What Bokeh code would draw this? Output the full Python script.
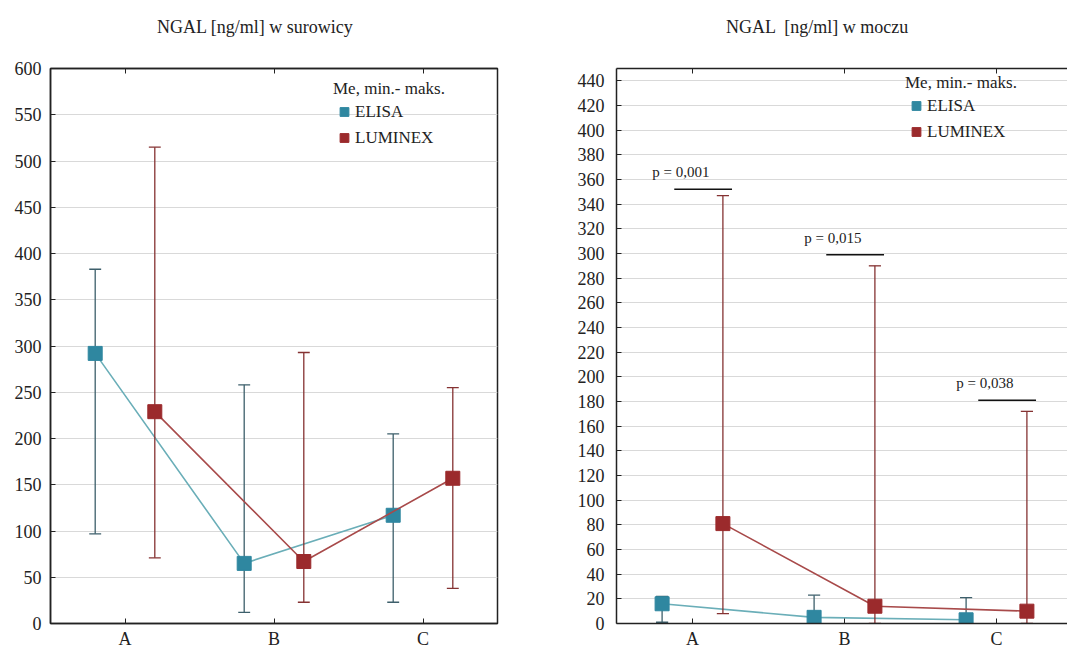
from bokeh.plotting import figure
from bokeh.layouts import row, column
from bokeh.models import Legend, LegendItem, LinearAxis, FixedTicker, Range1d, Div
from bokeh.embed import file_html
from bokeh.resources import INLINE
from bokeh.core.properties import value

# ---------------- data ----------------
groups = ["A", "B", "C"]
group_pos = [1, 2, 3]

serum_elisa_med = [292, 65, 117]
serum_elisa_min = [97, 12, 23]
serum_elisa_max = [383, 258, 205]
serum_lum_med = [229, 67, 157]
serum_lum_min = [71, 23, 38]
serum_lum_max = [515, 293, 255]

urine_elisa_med = [16, 5, 3]
urine_elisa_min = [1, 0, 0]
urine_elisa_max = [22, 23, 21]
urine_lum_med = [81, 14, 10]
urine_lum_min = [8, 0, 0]
urine_lum_max = [347, 290, 172]

p_labels = ["p = 0,001", "p = 0,015", "p = 0,038"]
p_line_y = [352, 299, 181]

serum_ticks = list(range(0, 601, 50))
urine_ticks = list(range(0, 441, 20))

title_serum = "NGAL [ng/ml] w surowicy"
title_urine = "NGAL  [ng/ml] w moczu"

# ---------------- style ----------------
FONT = "Liberation Serif"
ELISA_FILL = "#2f87a0"
ELISA_LINE = "#6aaeb8"
ELISA_BAR = "#3d5f6b"
LUM_FILL = "#9b2a2c"
LUM_LINE = "#a84a4a"
LUM_BAR = "#853232"
OFF = 0.2
CAP = 0.04
HEAD = 54
PH = 653 - HEAD


def title_div(text, width, pad_left):
    html = ('<div style="padding-left:%dpx;padding-top:17px;'
            "font-family:'Liberation Serif',serif;font-size:18px;"
            'line-height:20px;color:#222222;white-space:pre">%s</div>'
            % (pad_left, text))
    return Div(text=html, width=width, height=HEAD, margin=0)


def panel(e_med, e_min, e_max, l_med, l_min, l_max,
          ticks, y_end, x_end, width, bl, br, bt, bb, outline, y_standoff,
          legend_loc):
    p = figure(width=width, height=PH, x_range=Range1d(0.5, x_end),
               y_range=Range1d(0, y_end), output_backend="svg", title=None,
               toolbar_location=None, min_border_left=bl, min_border_right=br,
               min_border_top=bt, min_border_bottom=bb,
               background_fill_color="white", border_fill_color="white")
    p.outline_line_color = "#222222" if outline else None
    p.outline_line_width = 1.5

    # axes
    xa = p.xaxis[0]
    xa.ticker = FixedTicker(ticks=group_pos)
    xa.major_label_overrides = {g: n for g, n in zip(group_pos, groups)}
    xa.major_label_standoff = 5
    top = LinearAxis(ticker=FixedTicker(ticks=group_pos))
    p.add_layout(top, "above")
    p.yaxis.ticker = FixedTicker(ticks=ticks)
    p.yaxis.major_label_standoff = y_standoff
    for ax in p.xaxis + p.yaxis:
        ax.major_tick_in = 5
        ax.major_tick_out = 0
        ax.minor_tick_line_color = None
        ax.axis_line_color = "#222222"
        ax.axis_line_width = 1.5
        ax.major_tick_line_color = "#222222"
        ax.major_label_text_font = FONT
        ax.major_label_text_font_size = "18px"
        ax.major_label_text_color = "#222222"
    top.major_label_text_color = None
    top.major_label_text_font_size = "1px"
    top.major_label_standoff = 0

    p.xgrid.grid_line_color = None
    p.ygrid.ticker = FixedTicker(ticks=ticks)
    p.ygrid.grid_line_color = "#d9d9d9"

    xe = [g - OFF for g in group_pos]
    xl = [g + OFF for g in group_pos]

    rends = {}
    for xs, mn, mx, md, bar, lc, fc, key in (
            (xe, e_min, e_max, e_med, ELISA_BAR, ELISA_LINE, ELISA_FILL, "e"),
            (xl, l_min, l_max, l_med, LUM_BAR, LUM_LINE, LUM_FILL, "l")):
        p.segment(x0=xs, y0=mn, x1=xs, y1=mx, line_color=bar, line_width=1.3)
        p.segment(x0=[x - CAP for x in xs], y0=mx, x1=[x + CAP for x in xs],
                  y1=mx, line_color=bar, line_width=1.3)
        p.segment(x0=[x - CAP for x in xs], y0=mn, x1=[x + CAP for x in xs],
                  y1=mn, line_color=bar, line_width=1.3)
        rends[key + "line"] = p.line(x=xs, y=md, line_color=lc, line_width=1.6)
        rends[key + "sq"] = p.scatter(x=xs, y=md, marker="square", size=14,
                                      fill_color=fc, line_color=fc)

    legend = Legend(items=[
        LegendItem(label="ELISA", renderers=[rends["esq"]]),
        LegendItem(label="LUMINEX", renderers=[rends["lsq"]]),
    ], location=legend_loc, title="Me, min.- maks.")
    legend.background_fill_alpha = 0
    legend.border_line_color = None
    legend.padding = 0
    legend.margin = 0
    legend.spacing = 1
    legend.glyph_height = 25
    legend.glyph_width = 22
    legend.label_standoff = 0
    legend.label_text_font = FONT
    legend.label_text_font_size = "17px"
    legend.label_text_color = "#222222"
    legend.title_text_font = FONT
    legend.title_text_font_size = "17px"
    legend.title_text_font_style = "normal"
    legend.title_text_color = "#222222"
    legend.title_standoff = 0
    p.add_layout(legend)
    return p


p1 = panel(serum_elisa_med, serum_elisa_min, serum_elisa_max,
           serum_lum_med, serum_lum_min, serum_lum_max,
           serum_ticks, 600, 3.5, 560, 50, 63, 68 - HEAD, 28, True, 9,
           (283, 473))

p2 = panel(urine_elisa_med, urine_elisa_min, urine_elisa_max,
           urine_lum_med, urine_lum_min, urine_lum_max,
           urine_ticks, 450, 0.5 + 451 / 152, 507, 56, 0, 65 - HEAD, 30, False,
           12, (289, 479))

# p-value brackets on the urine panel
p2.segment(x0=[g - 0.12 for g in group_pos], y0=p_line_y,
           x1=[g + 0.26 for g in group_pos], y1=p_line_y,
           line_color="#111111", line_width=1.5)
p2.text(x=[g - 0.265 for g in group_pos], y=p_line_y, text=p_labels,
        text_font=value(FONT), text_font_size="15px", text_color="#222222",
        text_baseline="bottom", text_align="left", y_offset=-9)

layout = column(
    row(title_div(title_serum, 560, 157), title_div(title_urine, 507, 166),
        spacing=0),
    row(p1, p2, spacing=0),
    spacing=0)
open("out.html", "w").write(file_html(layout, INLINE))
